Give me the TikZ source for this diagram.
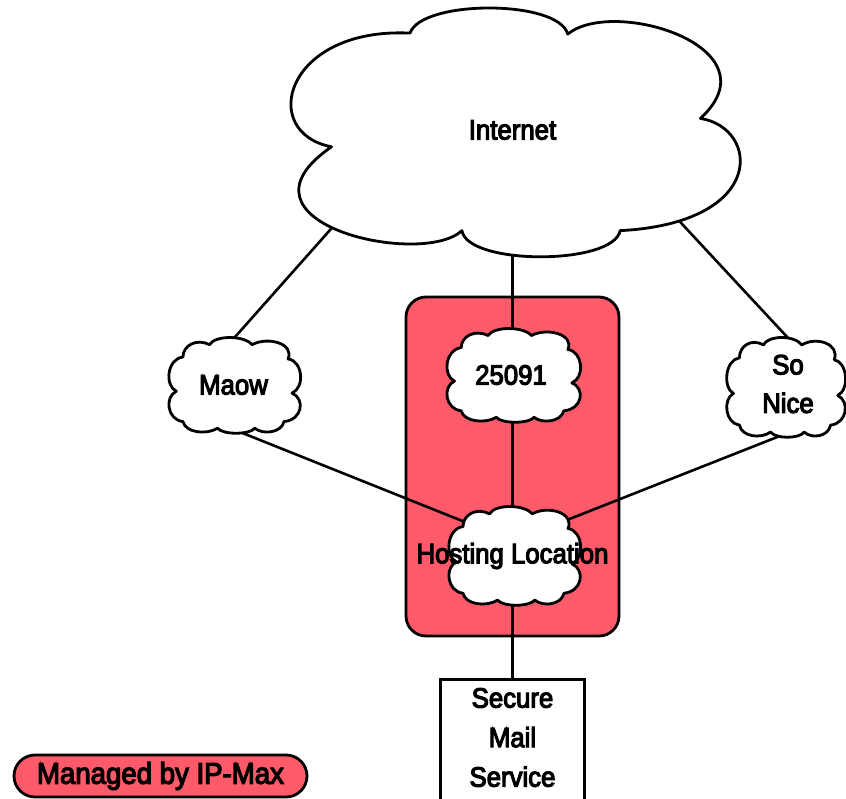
\documentclass[tikz,border=0pt]{standalone}
\usepackage{fontspec}
\setmainfont{Liberation Sans}[FakeStretch=0.92,FakeBold=4]
\definecolor{ipred}{HTML}{FF5A6A}
\pgfdeclarelayer{bg}
\pgfdeclarelayer{edges}
\pgfdeclarelayer{shapes}
\pgfsetlayers{bg,edges,shapes,main}

% large cloud with six lobes, centred at (#1,#2), #3 wide and #4 high
\newcommand\bigcloud[4]{%
  \begin{scope}[shift={(#1,#2)},xscale=#3/100,yscale=#4/100]
    \path[cloudstyle] (-22.6,-39.6)
      .. controls (-20,-53) and (10,-53) .. (12,-39.2)
      .. controls (22,-54) and (58,-34) .. (41.1,-5.6)
      .. controls (54,-2) and (56,36) .. (23.5,39.1)
      .. controls (22,53) and (-10,53) .. (-11.2,39.1)
      .. controls (-20,54) and (-64,36) .. (-39.8,5.7)
      .. controls (-56,0) and (-50,-42) .. (-22.6,-39.6) -- cycle;
  \end{scope}}

% small cloud with ten lobes, centred at (#1,#2), #3 wide and #4 high
\newcommand\smallcloud[4]{%
  \begin{scope}[shift={(#1,#2)},xscale=#3/100,yscale=#4/100]
    \path[cloudstyle] (-38,-30)
      .. controls (-38,-42) and (-28,-50) .. (-18,-43)
      .. controls (-14,-53) and (8,-53) .. (14,-43)
      .. controls (26,-52) and (46,-44) .. (41,-28)
      .. controls (52,-26) and (54,2) .. (44,8)
      .. controls (54,14) and (52,36) .. (38,38)
      .. controls (36,50) and (22,52) .. (16,45)
      .. controls (12,52) and (-8,52) .. (-12,45)
      .. controls (-20,52) and (-36,50) .. (-38,38)
      .. controls (-50,36) and (-52,12) .. (-43,6)
      .. controls (-52,0) and (-50,-28) .. (-38,-30) -- cycle;
  \end{scope}}

\begin{document}
\begin{tikzpicture}[x=1pt,y=-1pt,
  cloudstyle/.style={draw=black,fill=white,line width=2.8pt,line join=round},
  link/.style={draw=black,line width=2.6pt},
  txt/.style={font=\fontsize{28}{38.5}\selectfont,align=center,inner sep=0pt},
  sitebox/.style={draw=black,fill=ipred,line width=2.8pt,rounded corners=20pt},
  mailbox/.style={draw=black,fill=white,line width=2.8pt,
    minimum width=144pt,minimum height=160pt,anchor=north},
  legendbox/.style={draw=black,fill=ipred,line width=2.8pt,
    rounded corners=21pt,minimum width=293pt,minimum height=42pt,
    inner sep=0pt,font=\fontsize{30}{36}\selectfont}]
\useasboundingbox (0,0) rectangle (846,799);
\clip (0,0) rectangle (846,799);

% hosting site area and service box
\begin{pgfonlayer}{bg}
  \node[sitebox,minimum width=213pt,minimum height=339pt] (site) at (512.5,466.5) {};
  \node[mailbox] (mail) at (512.5,678) {};
\end{pgfonlayer}

% text nodes
\node[txt] (inet) at (512.5,130) {Internet};
\node[txt] (asn)  at (511,375) {25091};
\node[txt] (maow) at (233.5,385) {Maow};
\node[txt] (nice) at (788,384) {So\\Nice};
\node[txt] (host) at (512.5,556) {Hosting Location};
\node[txt,font=\fontsize{28}{39.5}\selectfont] (mailtxt) at (512.5,737.5) {Secure\\Mail\\Service};
\node[legendbox] (legend) at (160.5,776) {Managed by IP-Max};

% cloud boundary points where the links attach
\coordinate (inet-l) at (338,221);
\coordinate (inet-r) at (674.8,216.2);
\coordinate (maow-t) at (229.7,343);
\coordinate (maow-b) at (229.4,427.8);
\coordinate (nice-t) at (795.4,345.9);
\coordinate (nice-b) at (795.6,429.8);
\coordinate (host-l) at (466,522.4);
\coordinate (host-r) at (561.4,522.2);

% links
\begin{pgfonlayer}{edges}
  \draw[link] (inet.center) -- (512.5,375) -- (host.center) -- (mail.north);
  \draw[link] (inet-l) -- (maow-t);
  \draw[link] (inet-r) -- (nice-t);
  \draw[link] (maow-b) -- (host-l);
  \draw[link] (nice-b) -- (host-r);
\end{pgfonlayer}

% clouds
\begin{pgfonlayer}{shapes}
  \bigcloud{513}{132.5}{456}{251}
  \smallcloud{512.5}{375.5}{135}{93}
  \smallcloud{513.5}{556}{133}{98}
  \smallcloud{233.5}{385.5}{133}{95}
  \smallcloud{785}{387.5}{120}{99}
\end{pgfonlayer}
\end{tikzpicture}
\end{document}
